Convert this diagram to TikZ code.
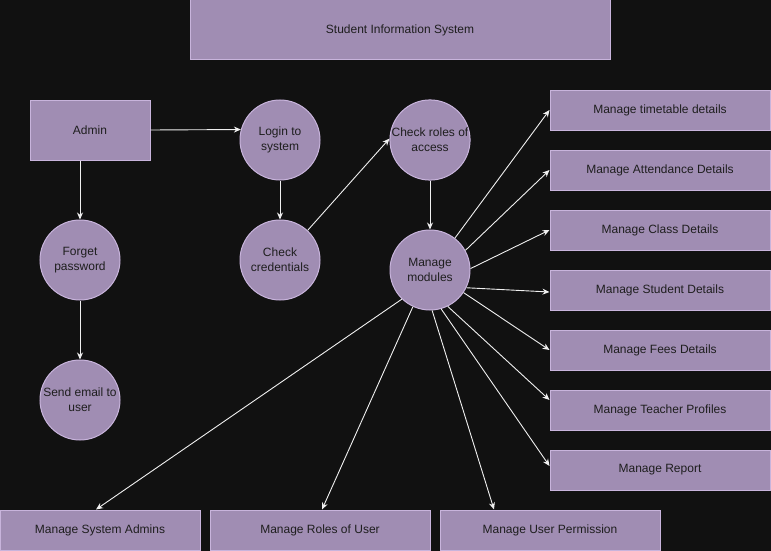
\documentclass[tikz,border=0pt]{standalone}
\usepackage{fontspec}
\setmainfont{Liberation Sans}
\usetikzlibrary{arrows.meta,calc}
\definecolor{bg}{HTML}{111111}
\definecolor{boxfill}{HTML}{A08DB3}
\definecolor{boxline}{HTML}{C8B4DC}
\definecolor{txt}{HTML}{1E1E1E}
\definecolor{wire}{HTML}{F0F0F0}
\tikzset{
  base/.style={draw=boxline, fill=boxfill, line width=1pt, text=txt, font=\fontsize{12}{15}\selectfont, align=center, inner sep=0pt},
  rectbox/.style={base, rectangle, minimum width=#1, minimum height=40pt},
  rectbox/.default=220pt,
  proc/.style={base, circle, minimum size=80pt},
  conn/.style={draw=wire, line width=0.9pt, -{Stealth[length=7pt,width=6pt]}}
}
\begin{document}
\begin{tikzpicture}[x=1pt,y=-1pt]
\fill[bg] (0,0) rectangle (771,551);
\useasboundingbox (0,0) rectangle (771,551);

\node[base, rectangle, minimum width=420pt, minimum height=60pt] (title) at (400,30) {Student Information System};
\node[base, rectangle, minimum width=120pt, minimum height=60pt] (admin) at (90,130) {Admin};
\node[proc] (login) at (280,140) {Login to\\system};
\node[proc] (cred) at (280,260) {Check\\credentials};
\node[proc] (forget) at (80,260) {Forget\\password};
\node[proc] (email) at (80,400) {Send email to\\user};
\node[proc] (roles) at (430,140) {Check roles of\\access};
\node[proc] (mm) at (430,270) {Manage\\modules};

\node[rectbox] (tt) at (660,110) {Manage timetable details};
\node[rectbox] (att) at (660,170) {Manage Attendance Details};
\node[rectbox] (cls) at (660,230) {Manage Class Details};
\node[rectbox] (stu) at (660,290) {Manage Student Details};
\node[rectbox] (fee) at (660,350) {Manage Fees Details};
\node[rectbox] (tea) at (660,410) {Manage Teacher Profiles};
\node[rectbox] (rep) at (660,470) {Manage Report};
\node[rectbox=200pt] (sa) at (100,530) {Manage System Admins};
\node[rectbox] (ru) at (320,530) {Manage Roles of User};
\node[rectbox] (up) at (550,530) {Manage User Permission};

\draw[conn] (admin.east) -- (login.165.5);
\draw[conn] ([xshift=-10pt]admin.south) -- (forget.north);
\draw[conn] (forget.south) -- (email.north);
\draw[conn] (login.south) -- (cred.north);
\draw[conn] (cred.47) -- (roles.178);
\draw[conn] (roles.south) -- (mm.north);

\draw[conn] (mm.52) -- (tt.west);
\draw[conn] (mm.29) -- (att.west);
\draw[conn] (mm.2) -- (cls.west);
\draw[conn] (mm.-26) -- ([yshift=-2pt]stu.west);
\draw[conn] (mm.-34) -- (fee.west);
\draw[conn] (mm.-64) -- ([yshift=10pt]tea.west);
\draw[conn] (mm.-74) -- ([yshift=4pt]rep.west);
\draw[conn] (mm.-134) -- ([xshift=-4pt]sa.north);
\draw[conn] (mm.-115) -- ([xshift=2pt]ru.north);
\draw[conn] (mm.-87) -- ([xshift=-56pt]up.north);
\end{tikzpicture}
\end{document}
